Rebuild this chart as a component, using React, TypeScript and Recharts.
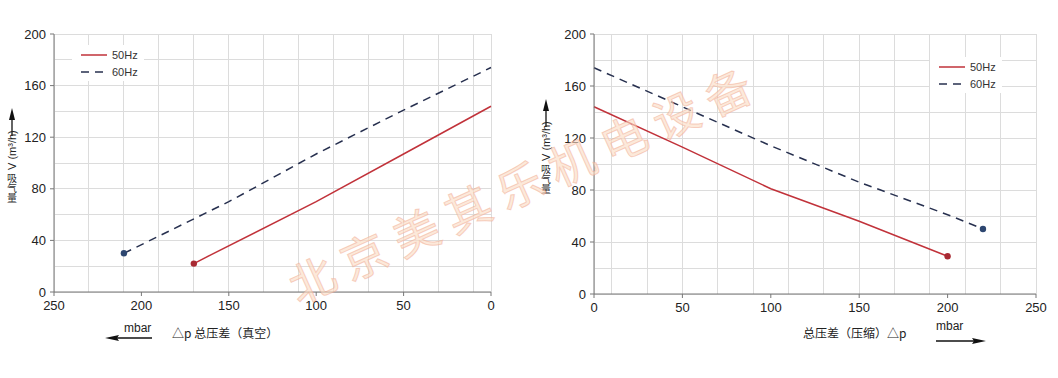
import React from 'react';
import { LineChart, Line, XAxis, YAxis, CartesianGrid } from 'recharts';

// vacuum side (left) - x is pressure difference in mbar, axis reversed
const vac50 = [
  { p: 170, v: 22 },
  { p: 160, v: 29 },
  { p: 100, v: 70 },
  { p: 50, v: 107 },
  { p: 0, v: 144 },
];
const vac60 = [
  { p: 210, v: 30 },
  { p: 150, v: 70 },
  { p: 100, v: 107 },
  { p: 50, v: 141 },
  { p: 0, v: 174 },
];

// compression side (right)
const comp50 = [
  { p: 0, v: 144 },
  { p: 50, v: 113 },
  { p: 100, v: 81 },
  { p: 150, v: 56 },
  { p: 200, v: 29 },
];
const comp60 = [
  { p: 0, v: 174 },
  { p: 50, v: 144 },
  { p: 100, v: 114 },
  { p: 150, v: 86 },
  { p: 200, v: 61 },
  { p: 220, v: 50 },
];

const xTicks = [0, 50, 100, 150, 200, 250];
const yTicks = [0, 40, 80, 120, 160, 200];
const xGrid = [0, 10, 20, 30, 40, 50, 60, 70, 80, 90, 100, 110, 120, 130, 140, 150, 160, 170, 180, 190, 200, 210, 220, 230, 240, 250];
const yGrid = [0, 10, 20, 30, 40, 50, 60, 70, 80, 90, 100, 110, 120, 130, 140, 150, 160, 170, 180, 190, 200];
const seriesNames = ['50Hz', '60Hz'];

const RED = '#c1323a';
const NAVY = '#27304f';
const SANS = 'Liberation Sans, Arial, sans-serif';
const TICK = { fontSize: 13, fill: '#222', fontFamily: SANS };
const CJK = '"Noto Sans CJK SC", sans-serif';

// only draw the marker on the end point of the curve
const endDot = (endIndex: number, color: string) => (props: any) => {
  if (props.index !== endIndex) return <g key={'d' + props.index} />;
  return <circle key={'d' + props.index} cx={props.cx} cy={props.cy} r={3.2} fill={color} stroke="none" />;
};

const LegendBox = ({ left, top }: { left: number; top: number }) => (
  <div style={{ position: 'absolute', left, top, background: '#fff', padding: '1px 6px 1px 9px', fontFamily: SANS, fontSize: 11, color: '#333' }}>
    {seriesNames.map((n, i) => (
      <div key={n} style={{ display: 'flex', alignItems: 'center', height: 17 }}>
        <svg width={27} height={4}>
          <line x1={0} y1={2} x2={26} y2={2} stroke={i === 0 ? RED : NAVY} strokeWidth={1.5} strokeDasharray={i === 0 ? undefined : '8 6'} />
        </svg>
        <span style={{ marginLeft: 4 }}>{n}</span>
      </div>
    ))}
  </div>
);

function YLabel({ x, top }: { x: number; top: number }) {
  // arrow, then rotated "V (m³/h)", then upright 吸气量 stacked vertically
  return (
    <g>
      <line x1={x} y1={top + 28} x2={x} y2={top + 8} stroke="#111" strokeWidth={1.3} />
      <polygon points={`${x},${top} ${x - 3},${top + 12} ${x + 3},${top + 12}`} fill="#111" />
      <text transform={`translate(${x + 4},${top + 62}) rotate(-90)`} fontSize={11} fontFamily={SANS} fill="#222">V (m³/h)</text>
      <text x={x} y={top + 65} fontSize={10} fontFamily={CJK} fill="#333"
        style={{ writingMode: 'vertical-rl', textOrientation: 'upright' } as any}>吸气量</text>
    </g>
  );
}

export default function App() {
  return (
    <div style={{ position: 'absolute', left: 0, top: 0, width: 1058, height: 378, background: '#fff', overflow: 'hidden' }}>
      <style>{'.recharts-cartesian-grid line { shape-rendering: crispEdges; }'}</style>
      <div style={{ position: 'absolute', left: 0, top: 0 }}>
        <LineChart width={530} height={378} margin={{ top: 34, right: 39, bottom: 56, left: 9 }}>
          <CartesianGrid stroke="#dcdcdc" strokeWidth={1} verticalValues={xGrid} horizontalValues={yGrid} />
          <XAxis type="number" dataKey="p" domain={[0, 250]} ticks={xTicks} reversed allowDuplicatedCategory={false}
            height={30} tick={TICK} tickSize={4} tickMargin={5} stroke="#777" />
          <YAxis type="number" domain={[0, 200]} ticks={yTicks} width={45} tick={TICK} tickSize={4} tickMargin={4} stroke="#777" />
          <Line data={vac50} dataKey="v" name="50Hz" type="linear" stroke={RED} strokeWidth={1.5}
            dot={endDot(0, '#a82a33')} isAnimationActive={false} />
          <Line data={vac60} dataKey="v" name="60Hz" type="linear" stroke={NAVY} strokeWidth={1.5} strokeDasharray="8 6"
            dot={endDot(0, '#2d4670')} isAnimationActive={false} />
        </LineChart>
      </div>
      <div style={{ position: 'absolute', left: 530, top: 0 }}>
        <LineChart width={528} height={378} margin={{ top: 34, right: 22, bottom: 54, left: 19 }}>
          <CartesianGrid stroke="#dcdcdc" strokeWidth={1} verticalValues={xGrid} horizontalValues={yGrid} />
          <XAxis type="number" dataKey="p" domain={[0, 250]} ticks={xTicks} allowDuplicatedCategory={false}
            height={30} tick={TICK} tickSize={4} tickMargin={5} stroke="#777" />
          <YAxis type="number" domain={[0, 200]} ticks={yTicks} width={45} tick={TICK} tickSize={4} tickMargin={4} stroke="#777" />
          <Line data={comp50} dataKey="v" name="50Hz" type="linear" stroke={RED} strokeWidth={1.5}
            dot={endDot(comp50.length - 1, '#a82a33')} isAnimationActive={false} />
          <Line data={comp60} dataKey="v" name="60Hz" type="linear" stroke={NAVY} strokeWidth={1.5} strokeDasharray="8 6"
            dot={endDot(comp60.length - 1, '#2d4670')} isAnimationActive={false} />
        </LineChart>
      </div>

      <LegendBox left={72} top={45} />
      <LegendBox left={930} top={57} />

      {/* axis titles, arrows and watermark */}
      <svg width={1058} height={378} style={{ position: 'absolute', left: 0, top: 0, pointerEvents: 'none' }}>
        <YLabel x={12} top={108} />
        <YLabel x={546} top={99} />

        {/* left x title */}
        <text x={124} y={332} fontSize={12} fontFamily={SANS} fill="#222">mbar</text>
        <line x1={152} y1={338} x2={116} y2={338} stroke="#111" strokeWidth={1.3} />
        <polygon points="105,338 119,335 117,338 119,341" fill="#111" />
        <text x={172} y={338} fontSize={12} fontFamily={CJK} fill="#222">△p  总压差（真空）</text>

        {/* right x title */}
        <text x={803} y={338} fontSize={12} fontFamily={CJK} fill="#222">总压差（压缩）△p</text>
        <text x={936} y={330} fontSize={12} fontFamily={SANS} fill="#222">mbar</text>
        <line x1={936} y1={341} x2={974} y2={341} stroke="#111" strokeWidth={1.3} />
        <polygon points="986,341 972,338 974,341 972,344" fill="#111" />

        <text x={527} y={188} transform="rotate(-24.3 527 188)" textAnchor="middle" dominantBaseline="middle"
          fontSize={46} letterSpacing={11} fontFamily={CJK} fontWeight={400}
          fill="#fbdcc4" fillOpacity={0.65} stroke="#f0a890" strokeOpacity={0.5} strokeWidth={1}>
          北京美其乐机电设备
        </text>
      </svg>
    </div>
  );
}
